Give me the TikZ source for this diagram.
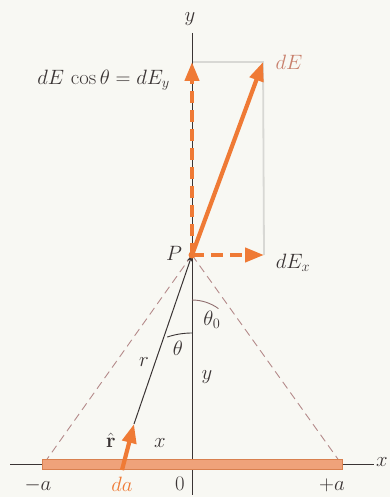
\documentclass[tikz,border=0pt]{standalone}
\usetikzlibrary{arrows.meta}
\definecolor{bg}{HTML}{F8F8F3}
\definecolor{arr}{HTML}{EF7A35}
\definecolor{rodfill}{HTML}{EFA27A}
\definecolor{roddraw}{HTML}{D9804F}
\definecolor{dashc}{HTML}{B48A8A}
\definecolor{txt}{HTML}{3A3434}
\definecolor{dec}{HTML}{C8806C}
\definecolor{ghost}{HTML}{D8D8D4}
\begin{document}
\begin{tikzpicture}[x=1pt,y=-1pt,
  lab/.style={text=txt,font=\fontsize{20}{24}\selectfont,inner sep=1pt},
  vec/.style={draw=arr,line width=4.2pt,-{Triangle[length=19pt,width=14pt]}},
  dvec/.style={vec,dash pattern=on 12pt off 7pt},
  guide/.style={draw=dashc,line width=0.9pt,dash pattern=on 8pt off 5pt},
  axis/.style={draw=txt,line width=1pt},
  ghostl/.style={draw=ghost,line width=1.8pt}]
\useasboundingbox (0,0) rectangle (390,497);
\fill[bg] (0,0) rectangle (390,497);
% coordinates
\coordinate (P) at (192,255);
\coordinate (ytop) at (192,33);
\coordinate (ybot) at (192,495);
\coordinate (O) at (192,464);
\coordinate (Ey) at (192,62);
\coordinate (E) at (263,62);
\coordinate (Ex) at (264,255);
\coordinate (ma) at (42,464);
\coordinate (pa) at (342,464);
\coordinate (xl) at (10,464);
\coordinate (xr) at (374,464);
\coordinate (dab) at (122,470);
\coordinate (dat) at (134,424);
% ghost rectangle
\draw[ghostl] (Ey) -- (E) -- (Ex);
% guides
\draw[guide] (P) -- (45,462);
\draw[guide] (P) -- (340,462);
% axes
\draw[axis] (ytop) -- (ybot);
\draw[axis] (xl) -- (xr);
% rod
\draw[fill=rodfill,draw=roddraw,line width=0.8pt] (42,459) rectangle (342,469);
% r line
\draw[draw=txt,line width=1pt,-{Stealth[length=7pt,width=6pt]}] (dat) -- (P);
% arcs
\draw[draw=txt,line width=0.9pt] (192,333) arc[start angle=-90,end angle=-108.5,radius=78];
\draw[draw=dashc!80!black,line width=0.9pt] (192,300) arc[start angle=-90,end angle=-54,radius=45];
% vectors
\draw[vec] (dab) -- (dat);
\draw[dvec] (P) -- (Ey);
\draw[vec] (P) -- (E);
\draw[dvec] (P) -- (Ex);
\fill[arr] (P) circle (3.5pt);
% labels
\node[lab] (ylab) at (190,19) {$y$};
\node[lab,anchor=east] (dEylab) at (171,80) {$dE\,\cos\theta = dE_y$};
\node[lab,text=dec] (dElab) at (289,62) {$dE$};
\node[lab] (Plab) at (174,253) {$P$};
\node[lab] (dExlab) at (293,263) {$dE_x$};
\node[lab] (th0) at (212,320) {$\theta_0$};
\node[lab] (th) at (178,348) {$\theta$};
\node[lab] (rlab) at (144,362) {$r$};
\node[lab] (ylab2) at (207,377) {$y$};
\node[lab] (rhat) at (111,440) {$\hat{\mathbf r}$};
\node[lab] (xlab) at (160,443) {$x$};
\node[lab] (xaxlab) at (382,462) {$x$};
\node[lab] (malab) at (38,485) {$-a$};
\node[lab,text=arr] (dalab) at (122,484) {$da$};
\node[lab] (olab) at (180,484) {$0$};
\node[lab] (palab) at (332,485) {$+a$};
\end{tikzpicture}
\end{document}
